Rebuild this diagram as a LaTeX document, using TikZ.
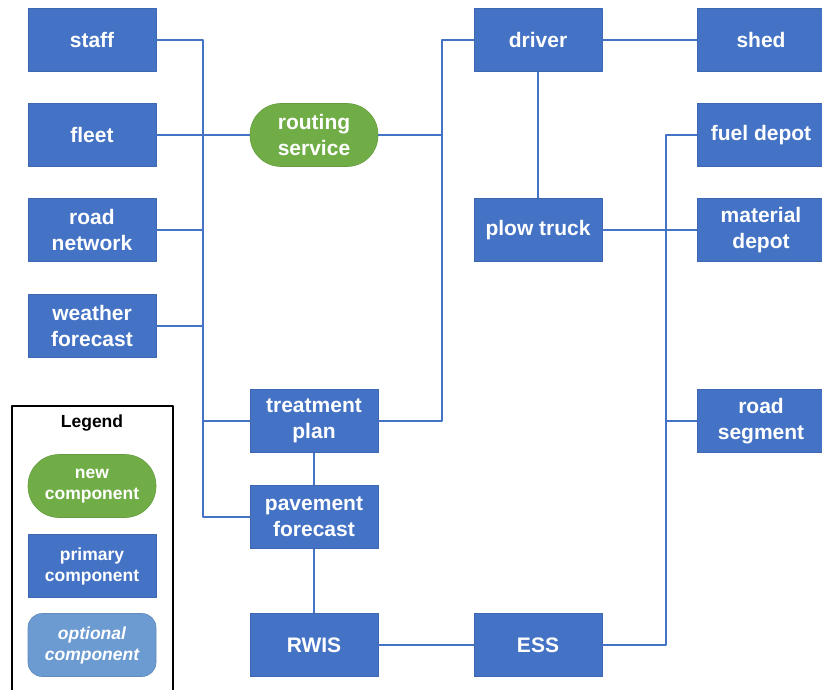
\documentclass[tikz,border=0pt]{standalone}
\usepackage{fontspec}
\setmainfont{Liberation Sans}
\definecolor{compblue}{HTML}{4472C4}
\definecolor{compgreen}{HTML}{70AD47}
\definecolor{optblue}{HTML}{6C9BD2}
\tikzset{
  comp/.style={fill=compblue, draw=compblue!90!black, line width=0.6pt, text=white,
    minimum width=128pt, minimum height=63pt, align=center, inner sep=0pt,
    font=\fontsize{21}{26}\selectfont\bfseries},
  newcomp/.style={comp, fill=compgreen, draw=compgreen!90!black, rounded corners=31pt},
  optcomp/.style={comp, fill=optblue, draw=optblue!90!black, rounded corners=14pt},
  small/.style={font=\fontsize{17.5}{21}\selectfont\bfseries},
  smallit/.style={font=\fontsize{17.5}{21}\selectfont\bfseries\itshape},
  link/.style={draw=compblue, line width=2pt},
}
\begin{document}
\begin{tikzpicture}[x=1pt, y=-1pt, line join=round]
			\useasboundingbox (0,0) rectangle (822,690);
			% left column
			\node[comp] (staff) at (92,40) {staff};
			\node[comp] (fleet) at (92,135) {fleet};
			\node[comp] (roadnet) at (92,230) {road\\network};
			\node[comp] (weather) at (92,326) {weather\\forecast};
			% middle column
			\node[newcomp] (routing) at (314,135) {routing\\service};
			\node[comp] (treat) at (314,421) {treatment\\plan};
			\node[comp] (pave) at (314,517) {pavement\\forecast};
			\node[comp] (rwis) at (314,645) {RWIS};
			\node[comp] (driver) at (538,40) {driver};
			\node[comp] (plow) at (538,230) {plow truck};
			\node[comp] (ess) at (538,645) {ESS};
			% right column
			\node[comp] (shed) at (761,40) {shed};
			\node[comp] (fuel) at (761,135) {fuel depot};
			\node[comp] (material) at (761,230) {material\\depot};
			\node[comp] (segment) at (761,421) {road\\segment};
			% buses
			\coordinate (busL) at (203,0);
			\coordinate (busM) at (442,0);
			\coordinate (busR) at (666,0);
			\draw[link] (staff) -- (staff -| busL) -- (pave -| busL) -- (pave);
			\draw[link] (fleet) -- (routing);
			\draw[link] (roadnet) -- (roadnet -| busL);
			\draw[link] (weather) -- (weather -| busL);
			\draw[link] (treat -| busL) -- (treat);
			\draw[link] (routing) -- (routing -| busM);
			\draw[link] (driver) -- (driver -| busM) -- (treat -| busM) -- (treat);
			\draw[link] (driver) -- (shed);
			\draw[link] (driver) -- (plow);
			\draw[link] (plow) -- (material);
			\draw[link] (fuel) -- (fuel -| busR) -- (ess -| busR) -- (ess);
			\draw[link] (segment) -- (segment -| busR);
			\draw[link] (treat) -- (pave);
			\draw[link] (pave) -- (rwis);
			\draw[link] (rwis) -- (ess);
			% legend
			\draw[line width=2pt] (12,406) rectangle (173,700);
			\node[small] (legend) at (92,423) {Legend};
			\node[newcomp, small] (lnew) at (92,486) {new\\component};
			\node[comp, small] (lprim) at (92,566) {primary\\component};
			\node[optcomp, smallit] (lopt) at (92,645) {optional\\component};
\end{tikzpicture}
\end{document}
